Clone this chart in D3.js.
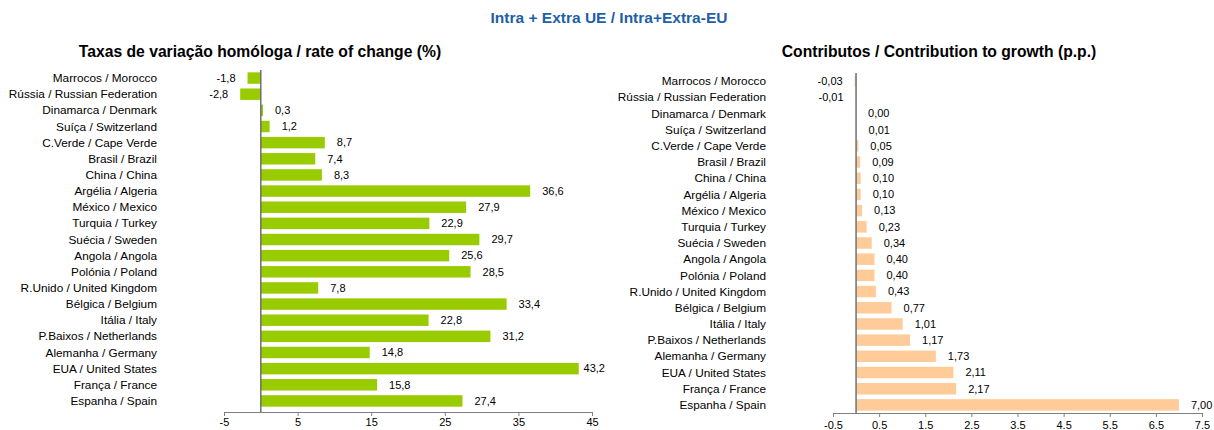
<!DOCTYPE html>
<html>
<head>
<meta charset="utf-8">
<script src="https://cdn.jsdelivr.net/npm/d3@7"></script>
<style>
  body { margin: 0; background: #fff; }
  svg text { font-family: Arial, "Liberation Sans", sans-serif; }
</style>
</head>
<body>
<div id="chart"></div>
<script>

// categories (top to bottom, as in the report)
var countries = [
    "Marrocos / Morocco", "Rússia / Russian Federation", "Dinamarca / Denmark",
    "Suíça / Switzerland", "C.Verde / Cape Verde", "Brasil / Brazil", "China / China",
    "Argélia / Algeria", "México / Mexico", "Turquia / Turkey", "Suécia / Sweden",
    "Angola / Angola", "Polónia / Poland", "R.Unido / United Kingdom", "Bélgica / Belgium",
    "Itália / Italy", "P.Baixos / Netherlands", "Alemanha / Germany",
    "EUA / United States", "França / France", "Espanha / Spain"
];

// rate of change (%)
var rateValues = [-1.8, -2.8, 0.3, 1.2, 8.7, 7.4, 8.3, 36.6, 27.9, 22.9, 29.7,
    25.6, 28.5, 7.8, 33.4, 22.8, 31.2, 14.8, 43.2, 15.8, 27.4];

// contribution to growth (p.p.)
var contribValues = [-0.03, -0.01, 0.00, 0.01, 0.05, 0.09, 0.10, 0.10, 0.13, 0.23, 0.34,
    0.40, 0.40, 0.43, 0.77, 1.01, 1.17, 1.73, 2.11, 2.17, 7.00];

// x axis ticks
var rateTicks = [-5, 5, 15, 25, 35, 45];
var contribTicks = [-0.5, 0.5, 1.5, 2.5, 3.5, 4.5, 5.5, 6.5, 7.5];

var mainTitle = "Intra + Extra UE / Intra+Extra-EU";
var rateTitle = "Taxas de variação homóloga / rate of change (%)";
var contribTitle = "Contributos / Contribution to growth (p.p.)";

var pt = d3.formatLocale({ decimal: ",", thousands: ".", grouping: [3], currency: ["", "€"], minus: "-" });


var svg = d3.select("#chart").append("svg")
    .attr("width", 1214)
    .attr("height", 430);

svg.append("text")
    .attr("x", 609)
    .attr("y", 23)
    .attr("text-anchor", "middle")
    .style("font-size", "15.5px")
    .style("font-weight", "bold")
    .style("fill", "#1f5fa6")
    .text(mainTitle);


/*
 * BarChart - one horizontal bar panel
 */
BarChart = function(_svg, _data, _opts){
    this.svg = _svg;
    this.data = _data;
    this.opts = _opts;

    this.initVis();
}

BarChart.prototype.initVis = function(){
    var vis = this;
    var o = vis.opts;

    vis.x = d3.scaleLinear()
        .domain([o.ticks[0], o.ticks[o.ticks.length - 1]])
        .range([o.left, o.right]);

    vis.y = d3.scaleBand()
        .domain(countries)
        .range([o.top, o.bottom])
        .paddingInner(0.29)
        .paddingOuter(0.145);

    vis.g = vis.svg.append("g");

    // panel title
    vis.g.append("text")
        .attr("x", o.titleX)
        .attr("y", 57)
        .attr("text-anchor", "middle")
        .style("font-size", "15.7px")
        .style("font-weight", "bold")
        .style("fill", "#000")
        .text(o.title);

    // x axis
    var xAxis = d3.axisBottom(vis.x)
        .tickValues(o.ticks)
        .tickSize(4)
        .tickSizeOuter(0)
        .tickFormat(function(d) { return d; });

    var ax = vis.g.append("g")
        .attr("transform", "translate(0," + o.axisY + ")")
        .call(xAxis);
    ax.select(".domain").attr("stroke", "#808080");
    ax.selectAll(".tick line").attr("stroke", "#808080");
    ax.selectAll(".tick text")
        .attr("y", o.tickPad)
        .style("font-size", "11px")
        .style("font-family", "Arial, 'Liberation Sans', sans-serif")
        .style("fill", "#000");

    // category labels
    vis.g.selectAll(".cat")
        .data(countries)
        .enter().append("text")
        .attr("class", "cat")
        .attr("x", o.labelX)
        .attr("y", function(d) { return vis.y(d) + vis.y.bandwidth() / 2; })
        .attr("dy", ".35em")
        .attr("text-anchor", "end")
        .style("font-size", "11.8px")
        .style("fill", "#000")
        .text(function(d) { return d; });

    vis.updateVis();
}

BarChart.prototype.updateVis = function(){
    var vis = this;
    var o = vis.opts;
    var x0 = vis.x(0);

    vis.g.selectAll(".bar")
        .data(vis.data)
        .enter().append("rect")
        .attr("class", "bar")
        .attr("x", function(d) { return Math.min(vis.x(d), x0); })
        .attr("y", function(d, i) { return vis.y(countries[i]); })
        .attr("width", function(d) { return Math.abs(vis.x(d) - x0); })
        .attr("height", vis.y.bandwidth())
        .style("fill", o.color);

    // zero line
    vis.g.append("line")
        .attr("x1", x0).attr("x2", x0)
        .attr("y1", o.top).attr("y2", o.axisY)
        .attr("stroke", "#707070")
        .attr("stroke-width", 1.5);

    // value labels
    var fmt = pt.format(o.fmt);
    vis.g.selectAll(".val")
        .data(vis.data)
        .enter().append("text")
        .attr("class", "val")
        .attr("y", function(d, i) { return vis.y(countries[i]) + vis.y.bandwidth() / 2; })
        .attr("dy", ".35em")
        .style("font-size", "11px")
        .style("fill", "#000")
        .text(function(d) { return fmt(d); })
        .each(function(d) {
            var t = d3.select(this);
            if (d < 0) {
                t.attr("text-anchor", "end").attr("x", vis.x(d) - 12);
            } else {
                var w = this.getComputedTextLength();
                var xs = Math.min(vis.x(d) + 12, o.maxX - w);
                t.attr("text-anchor", "start").attr("x", xs);
            }
        });
}


var rateChart = new BarChart(svg, rateValues, {
    ticks: rateTicks, left: 224, right: 592, top: 70, bottom: 409, axisY: 412, tickPad: 6,
    labelX: 157, titleX: 260, title: rateTitle, color: "#99cc00", fmt: ".1f", maxX: 605
});

var contribChart = new BarChart(svg, contribValues, {
    ticks: contribTicks, left: 833, right: 1202, top: 73, bottom: 413, axisY: 413, tickPad: 8,
    labelX: 766, titleX: 939, title: contribTitle, color: "#ffcc99", fmt: ".2f", maxX: 1213
});

</script>
</body>
</html>
